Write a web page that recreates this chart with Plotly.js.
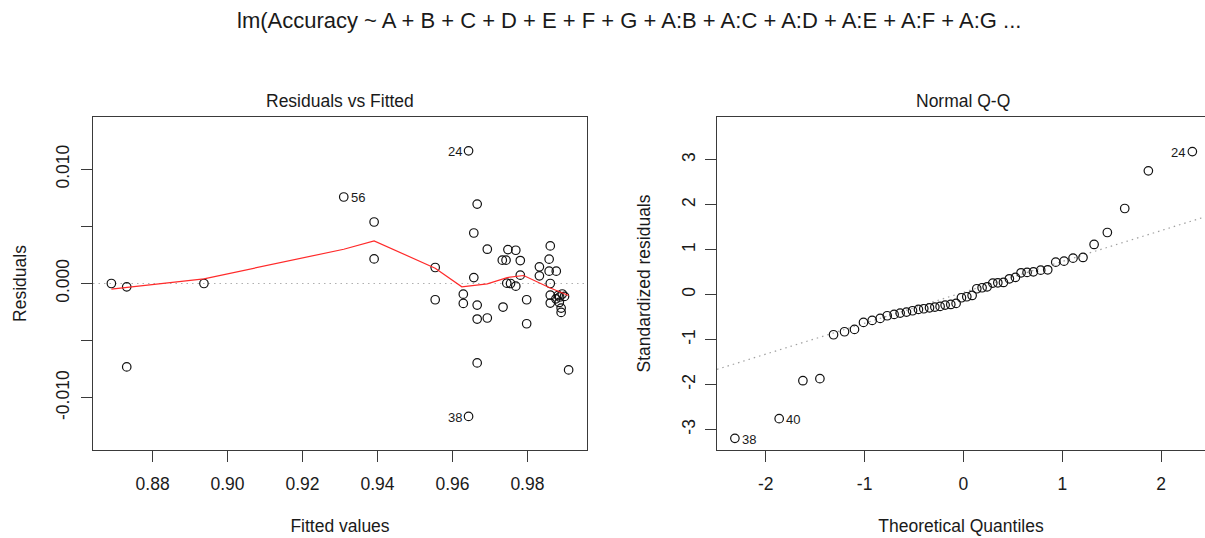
<!DOCTYPE html>
<html>
<head>
<meta charset="utf-8">
<script src="https://cdn.plot.ly/plotly-3.0.1.min.js"></script>
<style>
  html, body { margin: 0; padding: 0; background: #ffffff; }
  #plot { width: 1205px; height: 538px; }
</style>
</head>
<body>
<div id="plot"></div>
<script>
// ---- Residuals vs Fitted ----
const fittedValues = [
  0.8690, 0.8731, 0.8731, 0.8937, 0.9310, 0.9391, 0.9391, 0.9554, 0.9554,
  0.9643, 0.9643, 0.9629, 0.9629, 0.9657, 0.9657, 0.9666, 0.9666, 0.9666,
  0.9666, 0.9693, 0.9693, 0.9735, 0.9733, 0.9743, 0.9748, 0.9745, 0.9755,
  0.9769, 0.9769, 0.9781, 0.9781, 0.9798, 0.9798, 0.9832, 0.9832, 0.9861,
  0.9858, 0.9858, 0.9877, 0.9861, 0.9861, 0.9861, 0.9876, 0.9882, 0.9893,
  0.9899, 0.9885, 0.9890, 0.9890, 0.9910, 0.9886
];
const residuals = [
  0.00000, -0.00029, -0.00730, 0.00000, 0.00757, 0.00538, 0.00215, 0.00140, -0.00142,
  0.01161, -0.01163, -0.00093, -0.00174, 0.00052, 0.00442, 0.00695, -0.00189, -0.00311,
  -0.00695, 0.00300, -0.00302, -0.00206, 0.00204, 0.00204, 0.00297, 0.00003, 0.00000,
  0.00291, -0.00023, 0.00201, 0.00073, -0.00142, -0.00352, 0.00146, 0.00067, 0.00329,
  0.00213, 0.00108, 0.00108, 0.00000, -0.00102, -0.00171, -0.00134, -0.00105, -0.00092,
  -0.00113, -0.00166, -0.00215, -0.00253, -0.00756, -0.00118
];
// lowess smoother through the residuals
const smoothFitted = [0.8690, 0.8937, 0.9310, 0.9391, 0.9554, 0.9625, 0.9693, 0.9746, 0.9790, 0.9861, 0.9910];
const smoothResid  = [-0.00049, 0.00041, 0.00300, 0.00373, 0.00134, -0.00029, -0.00003, 0.00052, 0.00070, -0.00040, -0.00105];
// flagged observations: index into the arrays above, and observation number
const rvfFlagIndex = [4, 9, 10];
const rvfFlagText  = ['56', '24', '38'];

// ---- Normal Q-Q ----
const theoreticalQ = [
  -2.312, -1.864, -1.624, -1.452, -1.314, -1.203, -1.102, -1.011, -0.923, -0.842,
  -0.771, -0.701, -0.640, -0.576, -0.515, -0.455, -0.401, -0.343, -0.289, -0.236,
  -0.185, -0.128, -0.074, -0.020, 0.034, 0.088, 0.135, 0.189, 0.240, 0.297,
  0.348, 0.405, 0.465, 0.526, 0.583, 0.644, 0.708, 0.782, 0.853, 0.934,
  1.018, 1.109, 1.210, 1.322, 1.456, 1.632, 1.871, 2.316
];
const stdResiduals = [
  -3.196, -2.759, -1.915, -1.870, -0.893, -0.826, -0.774, -0.619, -0.574, -0.530,
  -0.470, -0.441, -0.411, -0.389, -0.359, -0.330, -0.315, -0.293, -0.278, -0.263,
  -0.233, -0.219, -0.196, -0.070, -0.048, -0.019, 0.130, 0.152, 0.174, 0.256,
  0.263, 0.270, 0.352, 0.382, 0.485, 0.493, 0.507, 0.544, 0.552, 0.722,
  0.744, 0.811, 0.826, 1.115, 1.381, 1.915, 2.752, 3.181
];
const qqFlagIndex = [0, 1, 47];
const qqFlagText  = ['38', '40', '24'];
// reference line through the quartiles
const qqLineIntercept = 0.050;
const qqLineSlope = 0.687;

// tick labels
const rvfXTicks = [0.88, 0.90, 0.92, 0.94, 0.96, 0.98];
const rvfYTicks = [-0.010, -0.005, 0.000, 0.005, 0.010];
const rvfYTickText = ['-0.010', '', '0.000', '', '0.010'];
const qqXTicks = [-2, -1, 0, 1, 2];
const qqYTicks = [-3, -2, -1, 0, 1, 2, 3];

const FONT = 'Liberation Sans, Arial, Helvetica, sans-serif';
const INK = '#1a1a1a';
const AXIS = '#3a3a3a';
const TXT = 17.5;

const rvfXRange = [0.8641, 0.9959];
const rvfYRange = [-0.01457, 0.01457];
const qqXRange = [-2.493, 2.444];
const qqYRange = [-3.456, 3.95];

const openCircle = { symbol: 'circle-open', size: 8.5, color: '#111', line: { width: 1.2, color: '#111' } };

const traces = [
  {
    x: rvfXRange, y: [0, 0], xaxis: 'x', yaxis: 'y', mode: 'lines',
    line: { color: '#b0b0b0', width: 1.2, dash: '1.5px,4px' }, hoverinfo: 'skip'
  },
  {
    x: fittedValues, y: residuals, xaxis: 'x', yaxis: 'y', mode: 'markers',
    marker: openCircle
  },
  {
    x: smoothFitted, y: smoothResid, xaxis: 'x', yaxis: 'y', mode: 'lines',
    line: { color: '#ff2a2a', width: 1.2 }
  },
  {
    x: qqXRange, y: qqXRange.map(q => qqLineIntercept + qqLineSlope * q),
    xaxis: 'x2', yaxis: 'y2', mode: 'lines',
    line: { color: '#a0a0a0', width: 1.2, dash: '1.5px,4px' }, hoverinfo: 'skip'
  },
  {
    x: theoreticalQ, y: stdResiduals, xaxis: 'x2', yaxis: 'y2', mode: 'markers',
    marker: openCircle
  }
];

const annotations = [];
// flagged points: label to the right of points left of centre, to the left otherwise
function flag(xs, ys, idx, txt, centre, xref, yref) {
  idx.forEach((i, k) => {
    const right = xs[i] <= centre;
    annotations.push({
      x: xs[i], y: ys[i], xref: xref, yref: yref, text: txt[k], showarrow: false,
      xanchor: right ? 'left' : 'right', yanchor: 'middle',
      xshift: right ? 5 : -5, yshift: -1,
      font: { family: FONT, size: 13, color: INK }
    });
  });
}
flag(fittedValues, residuals, rvfFlagIndex, rvfFlagText, 0.94, 'x', 'y');
flag(theoreticalQ, stdResiduals, qqFlagIndex, qqFlagText, 0, 'x2', 'y2');

const W = 1205, H = 538;
const px = v => v / W, py = v => 1 - v / H;

// panel captions and overall caption
[['Residuals vs Fitted', 340], ['Normal Q-Q', 963]].forEach(([t, cx]) => {
  annotations.push({
    text: t, x: px(cx), y: py(101), xref: 'paper', yref: 'paper', showarrow: false,
    xanchor: 'center', yanchor: 'middle', font: { family: FONT, size: TXT, color: INK }
  });
});
annotations.push({
  text: 'lm(Accuracy ~ A + B + C + D + E + F + G + A:B + A:C + A:D + A:E + A:F + A:G ...',
  x: px(629), y: py(20), xref: 'paper', yref: 'paper', showarrow: false,
  xanchor: 'center', yanchor: 'middle',
  font: { family: FONT, size: 22, color: INK }
});

const yDomain = [(H - 450) / H, (H - 117) / H];
const titleFont = { family: FONT, size: TXT, color: INK };

const common = {
  showgrid: false, zeroline: false, showline: true, linecolor: AXIS, linewidth: 1,
  ticks: 'outside', ticklen: 11, tickwidth: 1, tickcolor: AXIS,
  tickfont: { family: FONT, size: TXT, color: INK }, fixedrange: true
};

const layout = {
  width: W, height: H, autosize: false,
  margin: { l: 0, r: 0, t: 0, b: 0 },
  paper_bgcolor: '#ffffff', plot_bgcolor: '#ffffff',
  showlegend: false,
  font: { family: FONT, color: INK },
  xaxis: Object.assign({}, common, {
    domain: [93 / W, 587 / W], range: rvfXRange, mirror: true,
    tickvals: rvfXTicks, ticktext: rvfXTicks.map(v => v.toFixed(2)), ticklabelstandoff: 7,
    title: { text: 'Fitted values', font: titleFont, standoff: 26 }
  }),
  yaxis: Object.assign({}, common, {
    domain: yDomain, range: rvfYRange, mirror: true, anchor: 'x',
    tickvals: rvfYTicks, ticktext: rvfYTickText, tickangle: -90, ticklabelstandoff: 5,
    title: { text: 'Residuals', font: titleFont, standoff: 21 }
  }),
  xaxis2: Object.assign({}, common, {
    domain: [717 / W, 1], range: qqXRange, mirror: true, anchor: 'y2',
    tickvals: qqXTicks, ticktext: qqXTicks.map(String), ticklabelstandoff: 7,
    title: { text: 'Theoretical Quantiles', font: titleFont, standoff: 26 }
  }),
  yaxis2: Object.assign({}, common, {
    domain: yDomain, range: qqYRange, mirror: false, anchor: 'x2',
    tickvals: qqYTicks, ticktext: qqYTicks.map(String), tickangle: -90, ticklabelstandoff: 3,
    title: { text: 'Standardized residuals', font: titleFont, standoff: 23 }
  }),
  annotations: annotations
};

Plotly.newPlot('plot', traces, layout, { staticPlot: true, displayModeBar: false });
</script>
</body>
</html>
